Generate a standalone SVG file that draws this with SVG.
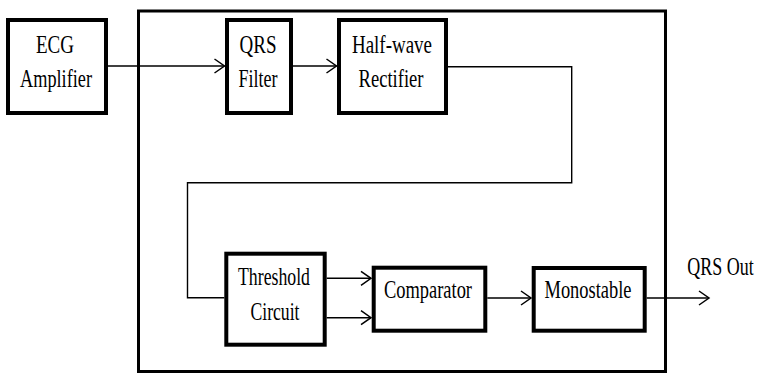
<svg xmlns="http://www.w3.org/2000/svg" width="761" height="376" viewBox="0 0 761 376">
<style>
.box{fill:#fff;stroke:#000;stroke-width:4}
.outer{fill:none;stroke:#000;stroke-width:3}
.wire{fill:none;stroke:#000;stroke-width:1.4}
.t{font-family:"Liberation Serif","Times New Roman",serif;font-size:26px;fill:#000;text-anchor:middle}
.ts{font-family:"Liberation Serif","Times New Roman",serif;font-size:18px;fill:#000;text-anchor:middle}
</style>
<defs>
<marker id="arr" markerUnits="userSpaceOnUse" viewBox="-12 -9 14 18" markerWidth="14" markerHeight="18" refX="0" refY="0" orient="auto">
<path d="M-10,-7 L0,0 L-10,7" fill="none" stroke="#000" stroke-width="1.5"/>
</marker>
</defs>
<rect class="outer" x="138.5" y="11" width="527" height="360.5"/>
<g id="connectors">
<path class="wire" d="M106,66 H224.5" marker-end="url(#arr)"/>
<path class="wire" d="M293,66 H336.5" marker-end="url(#arr)"/>
<path class="wire" d="M448,66.7 H571.7 V182.7 H187.5 V297.7 H224.3"/>
<path class="wire" d="M326.7,278.3 H371" marker-end="url(#arr)"/>
<path class="wire" d="M326.7,317.7 H371" marker-end="url(#arr)"/>
<path class="wire" d="M487.3,298 H531" marker-end="url(#arr)"/>
<path class="wire" d="M646.7,298 H709" marker-end="url(#arr)"/>
</g>
<g id="ecg">
<rect class="box" x="8" y="20" width="98" height="93"/>
<text class="t" x="55" y="52.7" textLength="38" lengthAdjust="spacingAndGlyphs">ECG</text>
<text class="t" x="56" y="87" textLength="72" lengthAdjust="spacingAndGlyphs">Amplifier</text>
</g>
<g id="qrs">
<rect class="box" x="227" y="20" width="64" height="93"/>
<text class="t" x="258" y="52.7" textLength="37" lengthAdjust="spacingAndGlyphs">QRS</text>
<text class="t" x="258" y="87" textLength="39" lengthAdjust="spacingAndGlyphs">Filter</text>
</g>
<g id="halfwave">
<rect class="box" x="339" y="20" width="107" height="93"/>
<text class="t" x="392" y="52.7" textLength="80" lengthAdjust="spacingAndGlyphs">Half-wave</text>
<text class="t" x="391" y="87" textLength="65" lengthAdjust="spacingAndGlyphs">Rectifier</text>
</g>
<g id="threshold">
<rect class="box" x="226.3" y="253.7" width="98.4" height="91"/>
<text class="t" x="274" y="285" textLength="72" lengthAdjust="spacingAndGlyphs">Threshold</text>
<text class="t" x="275" y="320" textLength="49" lengthAdjust="spacingAndGlyphs">Circuit</text>
</g>
<g id="comparator">
<rect class="box" x="373.7" y="267.7" width="111.6" height="63"/>
<text class="t" x="428" y="298" textLength="88" lengthAdjust="spacingAndGlyphs">Comparator</text>
</g>
<g id="monostable">
<rect class="box" x="533.7" y="268" width="111" height="62.7"/>
<text class="t" x="588" y="298" textLength="87" lengthAdjust="spacingAndGlyphs">Monostable</text>
</g>
<g id="out">
<text class="ts" transform="translate(720.5,275) scale(1,1.44)" x="0" y="0">QRS Out</text>
</g>
</svg>
